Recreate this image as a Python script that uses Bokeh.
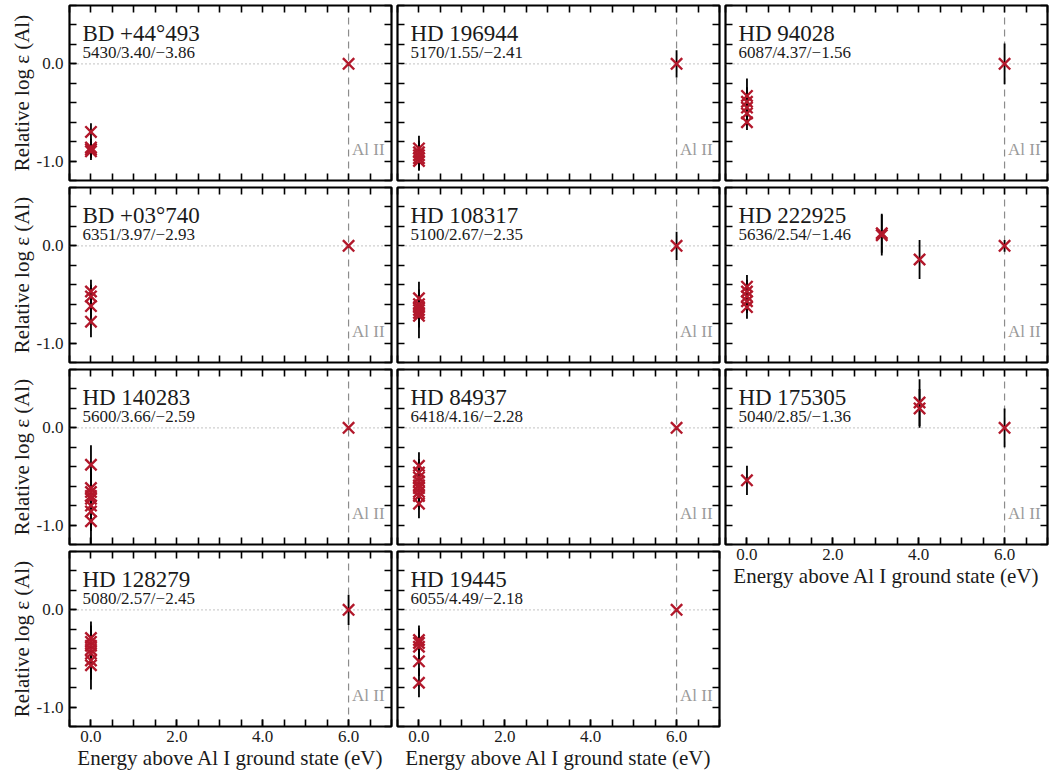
import numpy as np
from bokeh.plotting import figure
from bokeh.models import LinearAxis, FixedTicker, Span, Label, ColumnDataSource, Range1d
from bokeh.layouts import row, column
from bokeh.embed import file_html
from bokeh.resources import INLINE

FONT = "'Liberation Serif', serif"
RED = "#b2182b"

# ---------------- data ----------------
star_names = ["BD +44°493", "HD 196944", "HD 94028",
              "BD +03°740", "HD 108317", "HD 222925",
              "HD 140283", "HD 84937", "HD 175305",
              "HD 128279", "HD 19445"]
star_params = ["5430/3.40/−3.86", "5170/1.55/−2.41", "6087/4.37/−1.56",
               "6351/3.97/−2.93", "5100/2.67/−2.35", "5636/2.54/−1.46",
               "5600/3.66/−2.59", "6418/4.16/−2.28", "5040/2.85/−1.36",
               "5080/2.57/−2.45", "6055/4.49/−2.18"]

bd44493_ep = [0.0, 0.0, 0.0, 0.0, 6.0]
bd44493_rel = [-0.70, -0.86, -0.88, -0.90, 0.0]
bd44493_err = [0.09, 0.09, 0.09, 0.09, 0.02]

hd196944_ep = [0.0, 0.0, 0.0, 0.0, 0.0, 6.0]
hd196944_rel = [-0.87, -0.91, -0.94, -0.97, -1.00, 0.0]
hd196944_err = [0.13, 0.12, 0.12, 0.12, 0.10, 0.14]

hd94028_ep = [0.0, 0.0, 0.0, 0.0, 0.0, 6.0]
hd94028_rel = [-0.33, -0.39, -0.45, -0.51, -0.60, 0.0]
hd94028_err = [0.18, 0.15, 0.12, 0.12, 0.08, 0.21]

bd03740_ep = [0.0, 0.0, 0.0, 0.0, 6.0]
bd03740_rel = [-0.47, -0.52, -0.62, -0.78, 0.0]
bd03740_err = [0.12, 0.12, 0.12, 0.16, 0.02]

hd108317_ep = [0.0, 0.0, 0.0, 0.0, 0.0, 0.0, 6.0]
hd108317_rel = [-0.54, -0.60, -0.63, -0.66, -0.69, -0.72, 0.0]
hd108317_err = [0.17, 0.15, 0.15, 0.15, 0.15, 0.23, 0.145]

hd222925_ep = [0.0, 0.0, 0.0, 0.0, 0.0, 3.14, 3.14, 4.02, 6.0]
hd222925_rel = [-0.42, -0.47, -0.52, -0.57, -0.63, 0.13, 0.11, -0.14, 0.0]
hd222925_err = [0.12, 0.12, 0.12, 0.12, 0.12, 0.20, 0.21, 0.20, 0.06]

hd140283_ep = [0.0, 0.0, 0.0, 0.0, 0.0, 0.0, 0.0, 0.0, 6.0]
hd140283_rel = [-0.38, -0.62, -0.66, -0.70, -0.73, -0.80, -0.86, -0.96, 0.0]
hd140283_err = [0.20, 0.20, 0.20, 0.20, 0.20, 0.20, 0.20, 0.24, 0.02]

hd84937_ep = [0.0, 0.0, 0.0, 0.0, 0.0, 0.0, 0.0, 0.0, 0.0, 6.0]
hd84937_rel = [-0.39, -0.46, -0.51, -0.55, -0.59, -0.62, -0.66, -0.70, -0.78, 0.0]
hd84937_err = [0.14, 0.14, 0.14, 0.14, 0.14, 0.14, 0.14, 0.14, 0.15, 0.02]

hd175305_ep = [0.0, 4.02, 4.02, 6.0]
hd175305_rel = [-0.54, 0.26, 0.20, 0.0]
hd175305_err = [0.15, 0.24, 0.20, 0.20]

hd128279_ep = [0.0, 0.0, 0.0, 0.0, 0.0, 0.0, 0.0, 6.0]
hd128279_rel = [-0.29, -0.33, -0.37, -0.41, -0.45, -0.52, -0.57, 0.0]
hd128279_err = [0.17, 0.17, 0.17, 0.17, 0.20, 0.20, 0.25, 0.155]

hd19445_ep = [0.0, 0.0, 0.0, 0.0, 0.0, 6.0]
hd19445_rel = [-0.31, -0.34, -0.38, -0.53, -0.75, 0.0]
hd19445_err = [0.15, 0.15, 0.15, 0.15, 0.15, 0.02]

x_ticks = [0.0, 2.0, 4.0, 6.0]
x_tick_labels = ["0.0", "2.0", "4.0", "6.0"]
y_ticks = [-1.0, 0.0]
y_tick_labels = ["-1.0", "0.0"]
x_minor = list(np.arange(-0.5, 7.01, 0.5))
y_minor = list(np.round(np.arange(-1.2, 0.61, 0.2), 2))

ion_line_ep = 6.0
x_title = "Energy above Al I ground state (eV)"
y_title = "Relative log ε (Al)"

panels = [
    (bd44493_ep, bd44493_rel, bd44493_err),
    (hd196944_ep, hd196944_rel, hd196944_err),
    (hd94028_ep, hd94028_rel, hd94028_err),
    (bd03740_ep, bd03740_rel, bd03740_err),
    (hd108317_ep, hd108317_rel, hd108317_err),
    (hd222925_ep, hd222925_rel, hd222925_err),
    (hd140283_ep, hd140283_rel, hd140283_err),
    (hd84937_ep, hd84937_rel, hd84937_err),
    (hd175305_ep, hd175305_rel, hd175305_err),
    (hd128279_ep, hd128279_rel, hd128279_err),
    (hd19445_ep, hd19445_rel, hd19445_err),
]


def style_axis(ax, labeled):
    ax.major_tick_in = 7
    ax.major_tick_out = 0
    ax.minor_tick_in = 7
    ax.minor_tick_out = 0
    ax.major_tick_line_color = "black"
    ax.minor_tick_line_color = "black"
    ax.major_tick_line_width = 1.6
    ax.minor_tick_line_width = 1.6
    ax.axis_line_color = None
    ax.major_label_text_font = FONT
    ax.major_label_text_font_size = "17px"
    ax.major_label_text_color = "#1a1a1a"
    ax.axis_label_text_font = FONT
    ax.axis_label_text_font_style = "normal"
    ax.axis_label_text_font_size = "21px"
    ax.axis_label_text_color = "#1a1a1a"
    if not labeled:
        ax.major_label_standoff = 0


def make_panel(idx, col, rowi, xlabels):
    ep, rel, err = panels[idx]
    rel_a = np.array(rel)
    err_a = np.array(err)
    src = ColumnDataSource(dict(x=ep, y=rel, lo=rel_a - err_a, hi=rel_a + err_a))

    p = figure(frame_width=322, frame_height=175,
               min_border_left=69 if col == 0 else 3,
               min_border_right=3,
               min_border_top=5 if rowi == 0 else 4,
               min_border_bottom=51 if xlabels else 3,
               x_range=Range1d(-0.5, 7.0), y_range=Range1d(-1.2, 0.6),
               toolbar_location=None, output_backend="svg",
               background_fill_color="white", border_fill_color="white")
    p.grid.visible = False
    p.outline_line_color = "black"
    p.outline_line_width = 2.2
    p.outline_line_alpha = 1.0

    xa = p.xaxis[0]
    if xlabels:
        xa.ticker = FixedTicker(ticks=x_ticks, minor_ticks=x_minor)
        xa.major_label_overrides = {t: l for t, l in zip(x_ticks, x_tick_labels)}
        xa.axis_label = x_title
        style_axis(xa, True)
        xa.major_label_standoff = 4
        xa.axis_label_standoff = 1
    else:
        xa.ticker = FixedTicker(ticks=[], minor_ticks=x_minor)
        style_axis(xa, False)
    ya = p.yaxis[0]
    if col == 0:
        ya.ticker = FixedTicker(ticks=y_ticks, minor_ticks=y_minor)
        ya.major_label_overrides = {t: l for t, l in zip(y_ticks, y_tick_labels)}
        ya.axis_label = y_title
        style_axis(ya, True)
        ya.major_label_standoff = 6
        ya.axis_label_standoff = 0
    else:
        ya.ticker = FixedTicker(ticks=[], minor_ticks=y_minor)
        style_axis(ya, False)
    ra = LinearAxis(ticker=FixedTicker(ticks=[], minor_ticks=y_minor))
    style_axis(ra, False)
    p.add_layout(ra, "right")
    ta = LinearAxis(ticker=FixedTicker(ticks=[], minor_ticks=x_minor))
    style_axis(ta, False)
    p.add_layout(ta, "above")

    p.add_layout(Span(location=0.0, dimension="width", line_color="#a0a0a0",
                      line_dash="1 3", line_width=1.2, level="underlay"))
    p.add_layout(Span(location=ion_line_ep, dimension="height", line_color="#8c8c8c",
                      line_dash="7 5", line_width=1.2, level="underlay"))

    p.segment(x0="x", y0="lo", x1="x", y1="hi", source=src,
              line_color="black", line_width=1.8)
    p.scatter(x="x", y="y", source=src, marker="x", size=16,
              line_color=RED, line_width=2.4)

    p.add_layout(Label(x=-0.2, y=0.315, text=star_names[idx], text_font=FONT,
                       text_font_size="23px", text_color="#1a1a1a",
                       text_baseline="alphabetic"))
    p.add_layout(Label(x=-0.2, y=0.12, text=star_params[idx], text_font=FONT,
                       text_font_size="17px", text_color="#1a1a1a",
                       text_baseline="alphabetic"))
    p.add_layout(Label(x=6.08, y=-0.885, text="Al II", text_font=FONT,
                       text_font_size="17px", text_color="#9a9a9a",
                       text_baseline="alphabetic"))
    return p


grid_pos = [(0, 0), (0, 1), (0, 2),
            (1, 0), (1, 1), (1, 2),
            (2, 0), (2, 1), (2, 2),
            (3, 0), (3, 1)]
bottom_panels = {9, 10, 8}

cols = [[], [], []]
for i, (r, c) in enumerate(grid_pos):
    cols[c].append(make_panel(i, c, r, i in bottom_panels))

layout = row(column(*cols[0]), column(*cols[1]), column(*cols[2]))

open("out.html", "w").write(file_html(layout, INLINE))
